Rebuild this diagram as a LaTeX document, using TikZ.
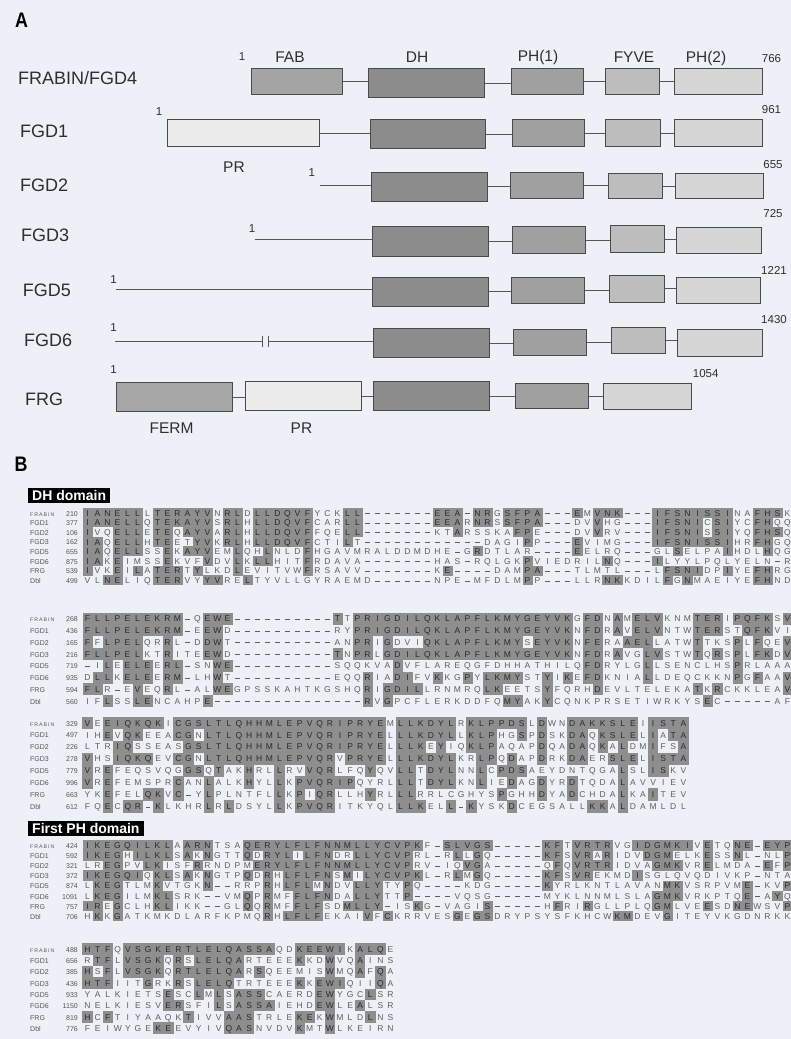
\documentclass[tikz,border=0pt]{standalone}
\usepackage{fontspec}
\usepackage{graphicx}
\setmainfont{Liberation Sans}
\newfontfamily\frfont[LetterSpace=20]{Liberation Sans}
\definecolor{bg}{HTML}{EDF0F7}
\definecolor{shade}{HTML}{8E8E8E}
\definecolor{slet}{HTML}{2A2A2A}
\definecolor{ulet}{HTML}{5E5E5E}
\definecolor{txtA}{HTML}{2E2E2E}
\definecolor{labc}{HTML}{555555}
\definecolor{boxline}{HTML}{4A4A4A}
\definecolor{connc}{HTML}{555555}
\definecolor{cFAB}{HTML}{A4A4A4}
\definecolor{cDH}{HTML}{8C8C8C}
\definecolor{cPHa}{HTML}{A0A0A0}
\definecolor{cFYVE}{HTML}{BDBDBD}
\definecolor{cPHb}{HTML}{D6D6D6}
\definecolor{cPR}{HTML}{ECECEC}
\definecolor{cFERM}{HTML}{A6A6A6}
\newlength\cw \newlength\cht \newlength\cdp
\newcommand\seqcell[1]{%
  \ifnum`#1>96\relax
    \makebox[\cw]{\color{ulet}\uppercase{#1}}%
  \else\ifnum`#1=45\relax
    \makebox[\cw]{\color{ulet}\raisebox{2.3pt}{\rule{4.2pt}{0.6pt}}}%
  \else
    \rlap{\color{shade}\rule[-\cdp]{\dimexpr\cw+0.25pt\relax}{\cht}}\makebox[\cw]{\color{slet}#1}%
  \fi\fi}
\def\seqloop#1{\ifx\relax#1\else\seqcell{#1}\expandafter\seqloop\fi}
\newcommand\seqrow[1]{\seqloop#1\relax}
\newcommand\setblock[4]{\def\yz{#1}\def\py{#2}\setlength\cw{#3pt}%
  \setlength\cht{\dimexpr#2pt+0.3pt\relax}\setlength\cdp{\dimexpr#2pt/2-3.05pt\relax}\def\xz{#4}}
\newcommand\FR{{\frfont\fontsize{5.2}{6}\selectfont FRABIN}}
\newcommand\arow[5]{%
  \node[blbl, anchor=base west] (#1L) at (30,{\yz+#2*\py+3}) {#3};
  \node[blbl, anchor=base east] (#1N) at (78,{\yz+#2*\py+3}) {#4};
  \node[seqn, anchor=base west] (#1S) at (\xz,{\yz+#2*\py+3.05}) {\seqrow{#5}};}
\newcommand\dbox[6]{\node[dom, fill=#6, minimum width={(#4-#2)*1pt}, minimum height={(#5-#3)*1pt}, anchor=north west] (#1) at (#2,#3) {};}
\newcommand\link[2]{\draw[conn] (#1.east) -- (#1.east -| #2.west);}
\begin{document}
\begin{tikzpicture}[x=1pt,y=-1pt,
  dom/.style={draw=boxline, line width=0.8pt, inner sep=0pt},
  conn/.style={draw=connc, line width=0.8pt},
  rowlab/.style={font=\fontsize{18}{20}\selectfont, text=txtA, inner sep=0pt},
  domlab/.style={font=\fontsize{15.5}{17}\selectfont, text=txtA, inner sep=0pt},
  numlab/.style={font=\fontsize{11.5}{13}\selectfont, text=txtA, inner sep=0pt},
  panel/.style={font=\bfseries\fontsize{21}{23}\selectfont, text=black, inner sep=0pt},
  blbl/.style={font=\fontsize{7}{8}\selectfont, text=labc, inner sep=0pt},
  seqn/.style={font=\fontsize{8.5}{9}\selectfont, inner sep=0pt},
  hdr/.style={fill=black, text=white, font=\bfseries\fontsize{14}{15}\selectfont, inner xsep=4pt, inner ysep=0pt, minimum height=14.5pt, anchor=north west}]
\fill[bg] (0,0) rectangle (791,1039);
\useasboundingbox (0,0) rectangle (791,1039);
% ---------------- Panel A ----------------
\node[panel] (pA) at (21.5,20) {\scalebox{0.85}[1]{A}};
% FRABIN/FGD4
\node[rowlab, anchor=west] (r1) at (18,78) {FRABIN/FGD4};
\dbox{r1fab}{250.8}{68.3}{342.1}{94.3}{cFAB}
\dbox{r1dh}{368.3}{68.3}{484.4}{97.3}{cDH}
\dbox{r1pha}{510.6}{68.3}{582.7}{94.3}{cPHa}
\dbox{r1fy}{605.4}{68.3}{659.4}{94.3}{cFYVE}
\dbox{r1phb}{673.6}{68.3}{761.9}{94.3}{cPHb}
\link{r1fab}{r1dh}\link{r1dh}{r1pha}\link{r1pha}{r1fy}\link{r1fy}{r1phb}
\node[numlab] (r1one) at (242,57) {1};
\node[domlab] (tFAB) at (290,57.3) {FAB};
\node[domlab] (tDH) at (417,57.3) {DH};
\node[domlab] (tPHa) at (538,57.3) {PH(1)};
\node[domlab] (tFYVE) at (634,57.3) {FYVE};
\node[domlab] (tPHb) at (706,58) {PH(2)};
\node[numlab] (r1end) at (771.5,59) {766};
% FGD1
\node[rowlab, anchor=west] (r2) at (20,131.7) {FGD1};
\node[numlab] (r2one) at (159,111.7) {1};
\dbox{r2pr}{166.5}{119.3}{319.4}{145.7}{cPR}
\dbox{r2dh}{369.8}{119.3}{485.4}{148.3}{cDH}
\dbox{r2pha}{512}{119.3}{584}{145.7}{cPHa}
\dbox{r2fy}{605}{119.3}{660}{145.7}{cFYVE}
\dbox{r2phb}{673.6}{119.3}{762}{145.7}{cPHb}
\link{r2pr}{r2dh}\link{r2dh}{r2pha}\link{r2pha}{r2fy}\link{r2fy}{r2phb}
\node[numlab] (r2end) at (771.5,110) {961};
\node[domlab] (tPR1) at (234,166.7) {PR};
% FGD2
\node[rowlab, anchor=west] (r3) at (20,185) {FGD2};
\node[numlab] (r3one) at (311.8,173) {1};
\dbox{r3dh}{370.8}{171.7}{486.9}{201}{cDH}
\dbox{r3pha}{509.6}{171.7}{582.7}{198.3}{cPHa}
\dbox{r3fy}{608}{172.7}{662}{198.3}{cFYVE}
\dbox{r3phb}{675}{172.7}{763}{198.3}{cPHb}
\coordinate (r3s) at (320.4,185);
\draw[conn] (r3s) -- (r3s -| r3dh.west);
\link{r3dh}{r3pha}\link{r3pha}{r3fy}\link{r3fy}{r3phb}
\node[numlab] (r3end) at (773,165) {655};
% FGD3
\node[rowlab, anchor=west] (r4) at (21,235) {FGD3};
\node[numlab] (r4one) at (252,228.3) {1};
\dbox{r4dh}{372.4}{226}{488.4}{255.7}{cDH}
\dbox{r4pha}{512}{226}{585.3}{253.3}{cPHa}
\dbox{r4fy}{609.5}{225}{663.5}{252.3}{cFYVE}
\dbox{r4phb}{676}{226.7}{761}{253.3}{cPHb}
\coordinate (r4s) at (254.8,239.3);
\draw[conn] (r4s) -- (r4s -| r4dh.west);
\link{r4dh}{r4pha}\link{r4pha}{r4fy}\link{r4fy}{r4phb}
\node[numlab] (r4end) at (773,214) {725};
% FGD5
\node[rowlab, anchor=west] (r5) at (22.7,290) {FGD5};
\node[numlab] (r5one) at (113.5,280) {1};
\dbox{r5dh}{372.4}{276.7}{488.4}{306}{cDH}
\dbox{r5pha}{511}{277.3}{584}{303.3}{cPHa}
\dbox{r5fy}{609}{275}{663.5}{301.7}{cFYVE}
\dbox{r5phb}{676}{277.3}{760}{303.3}{cPHb}
\coordinate (r5s) at (116,289.3);
\draw[conn] (r5s) -- (r5s -| r5dh.west);
\link{r5dh}{r5pha}\link{r5pha}{r5fy}\link{r5fy}{r5phb}
\node[numlab] (r5end) at (774,270) {1221};
% FGD6
\node[rowlab, anchor=west] (r6) at (24,340) {FGD6};
\node[numlab] (r6one) at (113.5,328) {1};
\dbox{r6dh}{373.4}{328.3}{489.4}{357.3}{cDH}
\dbox{r6pha}{513}{329}{586}{355}{cPHa}
\dbox{r6fy}{610.5}{327.3}{665}{353.3}{cFYVE}
\dbox{r6phb}{677}{329}{762}{355.7}{cPHb}
\coordinate (r6s) at (115,341.7);
\coordinate (r6b1) at (262,341.7);
\coordinate (r6b2) at (268,341.7);
\draw[conn] (r6s) -- (r6b1);
\draw[conn] ([yshift=5.5pt]r6b1) -- ([yshift=-5.5pt]r6b1);
\draw[conn] ([yshift=5.5pt]r6b2) -- ([yshift=-5.5pt]r6b2);
\draw[conn] (r6b2) -- (r6b2 -| r6dh.west);
\link{r6dh}{r6pha}\link{r6pha}{r6fy}\link{r6fy}{r6phb}
\node[numlab] (r6end) at (774,320) {1430};
% FRG
\node[rowlab, anchor=west] (r7) at (25,399) {FRG};
\node[numlab] (r7one) at (113.5,369.3) {1};
\dbox{r7ferm}{116}{382.3}{232}{411}{cFERM}
\dbox{r7pr}{244.7}{381}{360.7}{410}{cPR}
\dbox{r7dh}{373.4}{381}{489.4}{410}{cDH}
\dbox{r7pha}{514.6}{382.7}{587.8}{408.3}{cPHa}
\dbox{r7phb}{603}{382.7}{691}{409}{cPHb}
\link{r7ferm}{r7pr}\link{r7pr}{r7dh}\link{r7dh}{r7pha}\link{r7pha}{r7phb}
\node[numlab] (r7end) at (705.7,373.3) {1054};
\node[domlab] (tFERM) at (171.5,428.3) {FERM};
\node[domlab] (tPR2) at (301.5,428.3) {PR};
% ---------------- Panel B ----------------
\node[panel] (pB) at (21,464.5) {\scalebox{0.85}[1]{B}};
\node[hdr] (hDH) at (28,488) {DH domain};
% block 1
\setblock{513}{9.65}{10}{82.3}
\arow{a1}{0}{\FR}{210}{IANELLlTERAYVnRLdLLDQVFyckLL-------EEA-NRgSFPA---EmVNK---IFSNISSInaFHSk}
\arow{a2}{1}{FGD1}{377}{IANELLqTEKAYVsRLhLLDQVFcarLL-------EEArNRsSFPA---dvVhg---IFSNIcSIycFHqq}
\arow{a3}{2}{FGD2}{106}{IvqELLeTEqAYVaRLhLLDQVFfqeLL-------ktArsskaFPe---dvVrv---IFSNIsSIyqFHSq}
\arow{a4}{3}{FGD3}{162}{IAqELLhTEetYVkRLhLLDQVFctiLt------------dagiPp---Evimg---IFSNISSIhrFHgq}
\arow{a5}{4}{FGD5}{655}{IAqELLssEkAYVemLqhLnldFhgavmralddmdhe-gRdtlar----Eelrq---glSelpaIhdlHqg}
\arow{a6}{5}{FGD6}{875}{IAkEimssEkvfVdvLkLLhitFrdava-------has-rqlgkPviedrilNq---Ilyylpqlyeln-r}
\arow{a7}{6}{FRG}{539}{IvkEiLaTERtYlkdLevitvwFrsavv-------kE----damPA---tlmtl---lFSNIdpIyeFHrg}
\arow{a8}{7}{Dbl}{499}{vlNEliqTERvyYVreLtyvllgyraemd------npe-mfdlmPp---llrNKkdilFgNmaeiyeFHnd}
% block 2
\setblock{618.7}{11.8}{10}{82.3}
\arow{b1}{0}{\FR}{268}{FLLPELEKRM-qEWE----------TtPRIGDILQKLAPFLKMYGEYVKgFDnAmELVknmTERiPQFKsV}
\arow{b2}{1}{FGD1}{436}{FLLPELEKRM-eEWd----------ryPRIGDILQKLAPFLKMYGEYVKnFDrAvELVntwTERstQFKvi}
\arow{b3}{2}{FGD2}{165}{FfLPELqrRl-dDWt----------anPRiGdviQKLAPFLKMYsEYVKnFEraAELlatwTtksPlFqeV}
\arow{b4}{3}{FGD3}{216}{FLLPELktRiteEWd----------TnPRlGDILQKLAPFLKMYGEYVKnFDrAvgLVstwTqRsPlFKdV}
\arow{b5}{4}{FGD5}{719}{-iLeELEeRL-snWE----------sqqkvaDvflareqgfdhhathilqFDrylgLlsenclhsPrlaaa}
\arow{b6}{5}{FGD6}{935}{dLLkELEeRM-lhWt----------eqqRiaDIfvKkgPyLKMYstYiKeFDkniaLldeqckknPgFaaV}
\arow{b7}{6}{FRG}{594}{FLr-eVeqRl-alWEgpsskahtkgshqRiGDILlrnmrqLKeetsYfqrhDevltelekaTkRckkleaV}
\arow{b8}{7}{Dbl}{560}{ifLssLEncahpE---------------RvGpcflerkddfqMYakYcqnkprsetiwrkysEc-----af}
% block 3
\setblock{723}{11.95}{10.1}{82.25}
\arow{c1}{0}{\FR}{329}{VeEIQKQKiCGSLTLQHHMLEPVQRIPRYEmLLKDYLrKLPPDSlDwnDAKKSLEiISTA}
\arow{c2}{1}{FGD1}{497}{ihEvQKeeaCGnLTLQHHMLEPVQRIPRYElLLKDYLlKLPhgSpDskDAqKSLElIaTA}
\arow{c3}{2}{FGD2}{226}{ltrIQsseasGSLTLQHHMLEPVQRIPRYElLLKeYiqKLPaqapDqaDAqKaLdmIfsA}
\arow{c4}{3}{FGD3}{278}{VhsIQKQevCGnLTLQHHMLEPVQRvPRYElLLKDYLkrLPqDapDrkDAerSLElISTA}
\arow{c5}{4}{FGD5}{779}{VrEfeqsvqgGSqTakHrlLrvVQRlfqYqvLLtDYLnnLcPDSaeydntqgaLslISkv}
\arow{c6}{5}{FGD6}{996}{VrEfemsprCanLalkHylLkPVQRIPqyrlLLtDYLknLieDagDyrDtqdaLavviev}
\arow{c7}{6}{FRG}{663}{ykEfelQKvC-yLplntflLkPiQRllhYrlLLrrlcghysPghhDyaDchdaLkaItev}
\arow{c8}{7}{Dbl}{612}{fqEcQR-KlkhrLrLdsylLkPVQRitkyqlLLKelL-KyskDcegsallKKaLdamldl}
% PH block 1
\node[hdr] (hPH) at (28,821) {First PH domain};
\setblock{845.5}{10.1}{10}{82.3}
\arow{d1}{0}{\FR}{424}{IKEGQILKLaARNtsaQERYLFLFNNMLLYCVPKf-SLVGS-----KFtVRTRvgIDGMKIvEtqNE-EYP}
\arow{d2}{1}{FGD1}{592}{IKEGhILKLsAkNgttQdRYLiLFNdrLLYCVPrl-rLlGq-----KFsVRaRidvDGMelkEssNl-nlP}
\arow{d3}{2}{FGD2}{321}{lrEGpvLKisfRrndpmERYLFLFNNMLLYCVPrv-iqVGa-----qFqVRTRidvaGMKvrElmda-EfP}
\arow{d4}{3}{FGD3}{372}{IKEGQIqKLsAkNgtpQdRhLFLFNsMiLYCVPKl-rLmGq-----KFsVRekmdIsglqvqdivkp-nta}
\arow{d5}{4}{FGD5}{874}{lKEGtlmKvtgkN--rrpRhLFLmNdvLLYtyPq----kdg-----KyrlkntlavanMKvsrpvmE-kvP}
\arow{d6}{5}{FGD6}{1091}{lKEGilmKLsrk--vmQpRmfFLFNdaLLYttP----vqsg-----myklnnmlslaGMKvrkptqE-aYq}
\arow{d7}{6}{FRG}{757}{IReGclhKLikk--glQqRmfFLFsdMLLY-isKg-vagiS-----hFriRgllplqGMlveEsdNEwsvP}
\arow{d8}{7}{Dbl}{706}{hKkGatkmkdlarfkpmqRhLFLFekaiVfCkrrvesGeGSdrypsysfkhcwKMdevGiteyvkgdnrkk}
% PH block 2
\setblock{949.3}{11.3}{10.1}{82.25}
\arow{e1}{0}{\FR}{488}{HTFqVSGKERTLELQASSAqdKEEWIkALQe}
\arow{e2}{1}{FGD1}{656}{rTFlVSGKqRsLELQArteeeKkdWvqAins}
\arow{e3}{2}{FGD2}{385}{HsFlVSGKqRTLELQArSqeemisWmqAfQa}
\arow{e4}{3}{FGD3}{436}{HTFiitGrkRsLELQtrteeeKkEWIqiiQa}
\arow{e5}{4}{FGD5}{933}{yalkietsEscLmLsASScaerdEWygcLsr}
\arow{e6}{5}{FGD6}{1150}{nelkiesvERsfiLsASSAiehdEWleAlsr}
\arow{e7}{6}{FRG}{819}{HcFtiyaaqkTivvAAStrleKEkWmldLns}
\arow{e8}{7}{Dbl}{776}{feiwygeKEevyivQASnvdvKmtWlkeirn}
\end{tikzpicture}
\end{document}
